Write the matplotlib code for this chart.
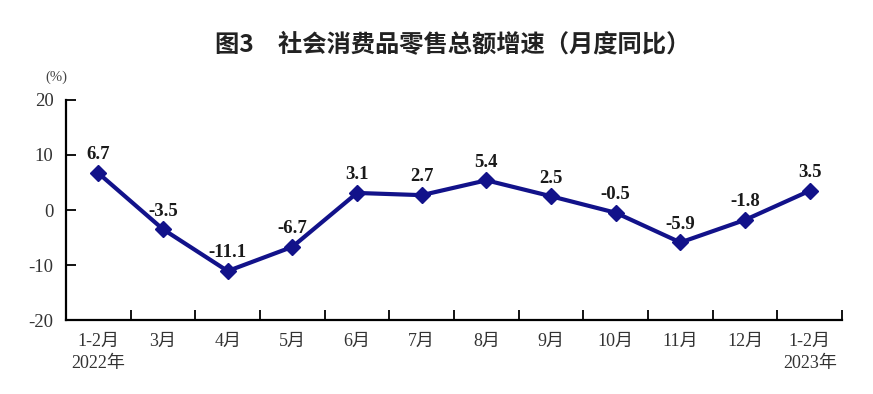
import matplotlib
matplotlib.use('Agg')
import matplotlib.pyplot as plt
import numpy as np

plt.rcParams['font.family'] = ['Liberation Serif', 'Noto Sans CJK SC']

months = ['1-2月\n2022年', '3月', '4月', '5月', '6月', '7月', '8月', '9月',
          '10月', '11月', '12月', '1-2月\n2023年']
growth = [6.7, -3.5, -11.1, -6.7, 3.1, 2.7, 5.4, 2.5, -0.5, -5.9, -1.8, 3.5]

fig = plt.figure(figsize=(8.73, 3.94), dpi=100)
ax = fig.add_axes([0.0756, 0.1878, 0.889, 0.5584])

x = np.arange(len(months))
ax.plot(x, growth, color='#12128a', lw=3, marker='D', ms=8, zorder=3)

for xi, v in zip(x, growth):
    ax.annotate(f'{v:.1f}', (xi, v), xytext=(0, 7), textcoords='offset points',
                ha='center', va='bottom', fontsize=13.5, fontweight='bold',
                color='#1a1a1a')

ax.set_xlim(-0.5, len(months) - 0.5)
ax.set_ylim(-20, 20)
ax.set_yticks([-20, -10, 0, 10, 20])
ax.set_yticklabels(['-20', '-10', '0', '10', '20'], fontsize=13.5, color='#333333')
ax.set_xticks(np.arange(len(months) + 1) - 0.5)
ax.set_xticklabels([])
ax.set_xticks(x, minor=True)
ax.set_xticklabels(months, minor=True, fontsize=13, color='#333333',
                   linespacing=1.45)
ax.tick_params(axis='x', which='minor', length=0, pad=9)
ax.tick_params(axis='x', which='major', direction='in', length=7, width=1.3)
ax.tick_params(axis='y', direction='in', length=7, width=1.3, pad=9)

for s in ['top', 'right']:
    ax.spines[s].set_visible(False)
for s in ['left', 'bottom']:
    ax.spines[s].set_linewidth(1.6)

fig.text(0.065, 0.795, '(%)', fontsize=10.5, ha='center', color='#444444')
fig.text(0.518, 0.885, '图3　社会消费品零售总额增速（月度同比）', fontsize=17.5,
         ha='center', va='center', family=['Noto Sans CJK SC'],
         fontweight='bold', color='#222222')

fig.savefig('out.png', dpi=100)
